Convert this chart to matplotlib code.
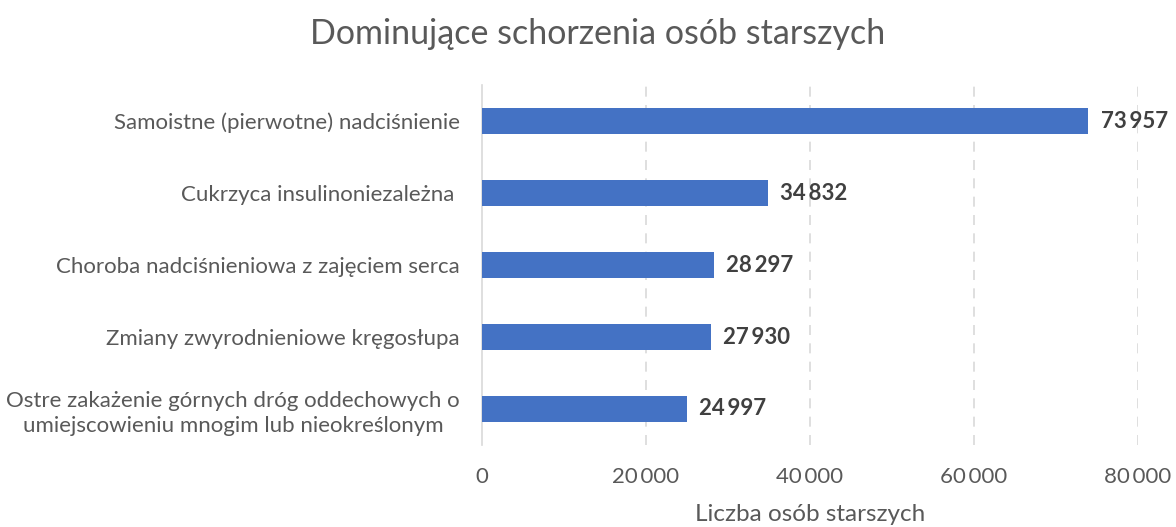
import matplotlib.pyplot as plt

plt.rcParams['font.family'] = ['Lato', 'DejaVu Sans']

# Dominant conditions among older patients
categories = [
    "Samoistne (pierwotne) nadciśnienie",
    "Cukrzyca insulinoniezależna ",
    "Choroba nadciśnieniowa z zajęciem serca",
    "Zmiany zwyrodnieniowe kręgosłupa",
    "Ostre zakażenie górnych dróg oddechowych o\numiejscowieniu mnogim lub nieokreślonym",
]
values = [73957, 34832, 28297, 27930, 24997]
xticks = [0, 20000, 40000, 60000, 80000]


def fmt(v):
    return f"{v:,}".replace(",", "\u2009")


fig = plt.figure(figsize=(11.76, 5.27), dpi=100)
ax = fig.add_axes([0.4099, 0.1556, 0.5578, 0.6831])

pos = range(len(categories))
ax.barh(pos, values, height=0.36, color="#4472C4", zorder=3)

for p, v in zip(pos, values):
    ax.text(v + 1500, p, fmt(v), va="center", ha="left",
            fontsize=16, fontweight="bold", color="#404040")

ax.set_ylim(len(categories) - 0.5, -0.5)
ax.set_xlim(0, 80000)
ax.set_yticks(list(pos))
ax.set_yticklabels(categories, fontsize=16, color="#595959",
                   multialignment="center", linespacing=1.3)
ax.tick_params(axis="y", length=0, pad=16)
ax.set_xticks(xticks)
ax.set_xticklabels([fmt(t) for t in xticks], fontsize=16, color="#595959")
ax.tick_params(axis="x", length=0, pad=16)

# dashed grid except at zero
for t in xticks[1:]:
    ax.axvline(t, color="#d9d9d9", linestyle=(0, (6, 5)), linewidth=1.2, zorder=0)

for s in ["top", "right", "bottom"]:
    ax.spines[s].set_visible(False)
ax.spines["left"].set_color("#d9d9d9")
ax.spines["left"].set_linewidth(1.2)

ax.set_xlabel("Liczba osób starszych", fontsize=17.5, color="#595959", labelpad=12)
fig.suptitle("Dominujące schorzenia osób starszych", fontsize=24.5,
             color="#595959", x=0.508, y=0.965)

fig.savefig("out.png", dpi=100)
